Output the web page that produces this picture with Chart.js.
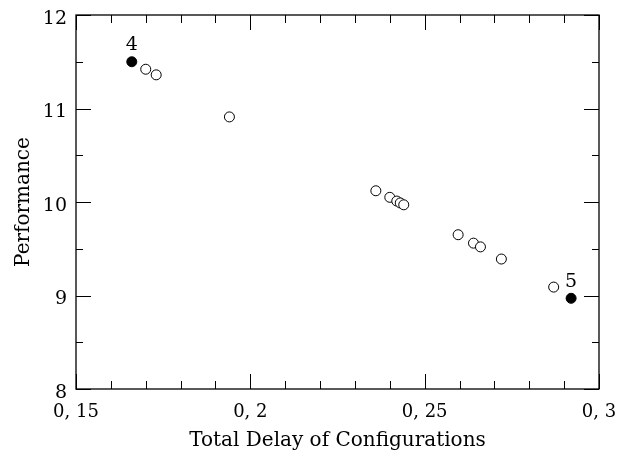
<!DOCTYPE html>
<html>
<head>
<meta charset="utf-8">
<script src="https://cdn.jsdelivr.net/npm/chart.js@4.4.0/dist/chart.umd.min.js"></script>
<style>
  body { margin: 0; background: #fff; }
</style>
</head>
<body>
<canvas id="myChart" width="619" height="457"></canvas>
<script>
// other configurations (open circles)
const delay = [0.170, 0.173, 0.194, 0.236, 0.240, 0.242, 0.243, 0.244, 0.2596, 0.264, 0.266, 0.272, 0.287];
const perf = [11.42, 11.36, 10.91, 10.12, 10.05, 10.01, 9.99, 9.97, 9.65, 9.56, 9.52, 9.39, 9.09];

// highlighted configurations (filled)
const bestDelay = [0.166, 0.292];
const bestPerf = [11.50, 8.97];
const bestNames = ['4', '5'];

const xTicks = [0.15, 0.2, 0.25, 0.3];
const xTickLabels = ['0, 15', '0, 2', '0, 25', '0, 3'];
const xMinor = [0.16, 0.17, 0.18, 0.19, 0.21, 0.22, 0.23, 0.24, 0.26, 0.27, 0.28, 0.29];
const yTicks = [8, 9, 10, 11, 12];
const yMinor = [8.5, 9.5, 10.5, 11.5];

const FONT = 'DejaVu Serif';

// box frame + inward ticks on all four sides
const frame = {
  id: 'frame',
  afterDraw(chart) {
    const ctx = chart.ctx;
    const a = chart.chartArea;
    const xs = chart.scales.x, ys = chart.scales.y;
    ctx.save();
    ctx.strokeStyle = '#000';
    ctx.lineWidth = 1.3;
    ctx.strokeRect(a.left, a.top, a.right - a.left, a.bottom - a.top);
    ctx.lineWidth = 1;
    const xMark = (v, len) => {
      const px = Math.round(xs.getPixelForValue(v)) + 0.5;
      ctx.beginPath();
      ctx.moveTo(px, a.bottom); ctx.lineTo(px, a.bottom - len);
      ctx.moveTo(px, a.top); ctx.lineTo(px, a.top + len);
      ctx.stroke();
    };
    const yMark = (v, len) => {
      const py = Math.round(ys.getPixelForValue(v)) + 0.5;
      ctx.beginPath();
      ctx.moveTo(a.left, py); ctx.lineTo(a.left + len, py);
      ctx.moveTo(a.right, py); ctx.lineTo(a.right - len, py);
      ctx.stroke();
    };
    xTicks.forEach(v => xMark(v, 15));
    xMinor.forEach(v => xMark(v, 8));
    yTicks.forEach(v => yMark(v, 15));
    yMinor.forEach(v => yMark(v, 7));
    ctx.restore();
  },
  afterDatasetsDraw(chart) {
    const ctx = chart.ctx;
    const meta = chart.getDatasetMeta(1);
    ctx.save();
    ctx.fillStyle = '#000';
    ctx.font = '19px "' + FONT + '"';
    ctx.textAlign = 'center';
    ctx.textBaseline = 'bottom';
    meta.data.forEach((pt, i) => {
      ctx.fillText(bestNames[i], pt.x, pt.y - 7);
    });
    ctx.restore();
  }
};

new Chart(document.getElementById('myChart'), {
  type: 'scatter',
  data: {
    datasets: [
      {
        label: 'Configurations',
        data: delay.map((d, i) => ({ x: d, y: perf[i] })),
        pointRadius: 5,
        pointBorderWidth: 1,
        pointBorderColor: '#000',
        pointBackgroundColor: '#fff'
      },
      {
        label: 'Selected',
        data: bestDelay.map((d, i) => ({ x: d, y: bestPerf[i] })),
        pointRadius: 5,
        pointBorderWidth: 1,
        pointBorderColor: '#000',
        pointBackgroundColor: '#000'
      }
    ]
  },
  options: {
    responsive: false,
    animation: false,
    layout: { padding: { left: 0, right: 20, top: 15, bottom: 0 } },
    plugins: { legend: { display: false }, tooltip: { enabled: false } },
    scales: {
      x: {
        min: 0.15, max: 0.3,
        afterBuildTicks: s => { s.ticks = xTicks.map(v => ({ value: v })); },
        afterFit: s => { s.height = 68; s.paddingLeft = 0; s.paddingRight = 0; },
        grid: { display: false, drawTicks: false },
        border: { display: false },
        ticks: {
          color: '#000',
          font: { family: FONT, size: 18 },
          padding: 13,
          maxRotation: 0,
          callback: (v, i) => xTickLabels[i]
        },
        title: {
          display: true,
          text: 'Total Delay of Configurations',
          color: '#000',
          font: { family: FONT, size: 20 },
          padding: { top: 4, bottom: 4 }
        }
      },
      y: {
        min: 8, max: 12,
        afterBuildTicks: s => { s.ticks = yTicks.map(v => ({ value: v })); },
        afterFit: s => { s.width = 76; s.paddingTop = 0; s.paddingBottom = 0; },
        grid: { display: false, drawTicks: false },
        border: { display: false },
        ticks: {
          color: '#000',
          font: { family: FONT, size: 19 },
          padding: 9,
          labelOffset: 4,
          callback: v => String(v)
        },
        title: {
          display: true,
          text: 'Performance',
          color: '#000',
          font: { family: FONT, size: 20 },
          padding: { top: 12, bottom: 4 }
        }
      }
    }
  },
  plugins: [frame]
});
</script>
</body>
</html>
